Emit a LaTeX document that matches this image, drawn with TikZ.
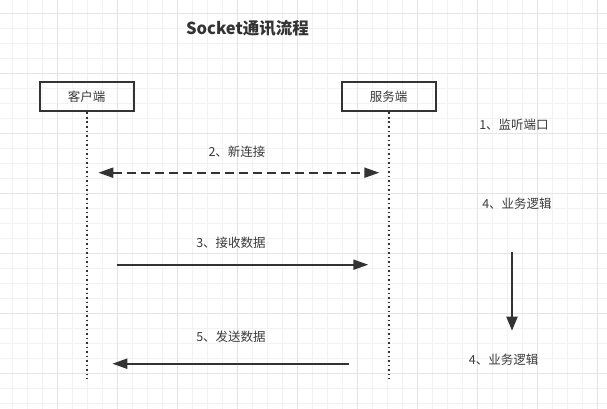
\documentclass[tikz,border=0pt]{standalone}
\usepackage{fontspec}
\usepackage{tikz}
\usetikzlibrary{arrows.meta, positioning, calc}
\newfontfamily\cjk{Noto Sans CJK SC}
\definecolor{linegray}{HTML}{333333}
\definecolor{textgray}{HTML}{3A3A3A}
\definecolor{gridminor}{HTML}{F2F2F2}
\definecolor{gridmajor}{HTML}{E4E4E4}
\begin{document}
\begin{tikzpicture}[
      x=1pt,y=-1pt,
      actor/.style={
        draw=linegray,
        line width=2pt,
        minimum width=94pt,
        minimum height=29pt,
        inner sep=0pt,
        text=textgray,
        font=\cjk\fontsize{12.5}{14}\selectfont,
      },
      note/.style={
        inner sep=0pt,
        text=textgray,
        font=\cjk\fontsize{12.5}{14}\selectfont,
      },
      lifeline/.style={linegray,line width=1.6pt,dash pattern=on 1.6pt off 2.9pt},
      msg/.style={linegray,line width=2pt,-{Triangle[length=15pt,width=10pt]}},
      ]
      \useasboundingbox (0,0) rectangle (607,409);
      \fill[white] (0,0) rectangle (607,409);
      % grid
      \foreach \x in {12.3,27.3,...,600} \draw[gridminor,line width=1pt] (\x,0) -- (\x,409);
      \foreach \y in {13.3,28.3,...,409} \draw[gridminor,line width=1pt] (0,\y) -- (607,\y);
      \foreach \x in {57.3,117.3,...,600} \draw[gridmajor,line width=1pt] (\x,0) -- (\x,409);
      \foreach \y in {13.3,73.3,...,409} \draw[gridmajor,line width=1pt] (0,\y) -- (607,\y);
      % title
      \node[text=linegray,font=\cjk\bfseries\fontsize{16.5}{18}\selectfont] (title) at (247.5,28.5) {Socket通讯流程};
      % actors
      \node[actor] (client) at (86.7,97) {客户端};
      \node[actor] (server) at (388.7,97) {服务端};
      \coordinate (client-end) at (86.7,379);
      \coordinate (server-end) at (388.7,379);
      \draw[lifeline] (client.south) -- (client-end);
      \draw[lifeline] (server.south) -- (server-end);
      % messages
      \node[note] (connect) at (237,151.7) {2、新连接};
      \coordinate (conn-l) at (98.3,172.7);
      \coordinate (conn-r) at (379.3,172.7);
      \draw[linegray,line width=2pt,dash pattern=on 9pt off 5pt,{Triangle[length=15pt,width=10pt]}-{Triangle[length=15pt,width=10pt]}] (conn-l) -- (conn-r);
      \node[note] (recv) at (231,243) {3、接收数据};
      \coordinate (recv-a) at (116.7,264.7);
      \coordinate (recv-b) at (368.3,264.7);
      \draw[msg] (recv-a) -- (recv-b);
      \node[note] (send) at (231,336.7) {5、发送数据};
      \coordinate (send-a) at (348.7,363.7);
      \coordinate (send-b) at (112.3,363.7);
      \draw[msg] (send-a) -- (send-b);
      % server side notes
      \node[note] (listen) at (514,124.5) {1、监听端口};
      \node[note] (logicA) at (517,203.3) {4、业务逻辑};
      \node[note] (logicB) at (503.7,359.3) {4、业务逻辑};
      \coordinate (flow-a) at (512,251.7);
      \coordinate (flow-b) at (512,330.7);
      \draw[msg,-{Triangle[length=14pt,width=11pt]}] (flow-a) -- (flow-b);
    \end{tikzpicture}
\end{document}
